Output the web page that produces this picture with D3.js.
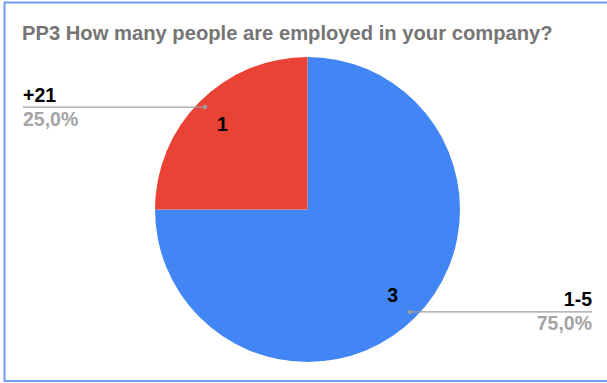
<!DOCTYPE html>
<html>
<head>
<meta charset="utf-8">
<script src="https://cdn.jsdelivr.net/npm/d3@7"></script>
<style>
  body { margin: 0; background: #fff; }
  svg { display: block; }
</style>
</head>
<body>
<div class="root"></div>
<script>
var title = 'PP3 How many people are employed in your company?';
var categories = ['1-5', '+21'];
var values = [3, 1];
var colors = ['#4285f4', '#ea4335'];

function runChart() {
  var w = 607, h = 383;
  var cx = 307.5, cy = 209.5, r = 152.5;
  var font = "'Liberation Sans', Arial, Helvetica, sans-serif";

  var svg = d3.select('.root').append('svg')
    .attr('width', w)
    .attr('height', h);

  // frame
  svg.append('rect')
    .attr('x', 4.5).attr('y', 2.5)
    .attr('width', w + 10).attr('height', 378.5)
    .attr('fill', 'none')
    .attr('stroke', '#6d9eeb')
    .attr('stroke-width', 2);

  svg.append('text')
    .attr('x', 22).attr('y', 40)
    .attr('font-family', font)
    .attr('font-size', 20.2)
    .attr('font-weight', 'bold')
    .attr('fill', '#757575')
    .text(title);

  var total = d3.sum(values);
  var data = categories.map(function(c, i) {
    return {cat: c, value: values[i], color: colors[i]};
  });

  var pie = d3.pie().sort(null).value(function(d) { return d.value; });
  var arcs = pie(data);

  var arc = d3.arc().innerRadius(0).outerRadius(r);
  var labelArc = d3.arc().innerRadius(r * 0.79).outerRadius(r * 0.79);
  var dotArc = d3.arc().innerRadius(r * 0.95).outerRadius(r * 0.95);

  var g = svg.append('g').attr('transform', 'translate(' + cx + ',' + cy + ')');

  g.selectAll('path.slice')
    .data(arcs)
    .enter().append('path')
      .attr('class', 'slice')
      .attr('d', arc)
      .attr('fill', function(d) { return d.data.color; });

  g.selectAll('text.val')
    .data(arcs)
    .enter().append('text')
      .attr('class', 'val')
      .attr('transform', function(d) { var p = labelArc.centroid(d); return 'translate(' + p[0] + ',' + p[1] + ')'; })
      .attr('dy', '0.36em')
      .attr('text-anchor', 'middle')
      .attr('font-family', font)
      .attr('font-size', 19.5)
      .attr('font-weight', 'bold')
      .attr('fill', '#000')
      .text(function(d) { return d.data.value; });

  var pct = d3.format('.1f');
  var leftX = 23 - cx, rightX = 592 - cx;

  arcs.forEach(function(d) {
    var p = dotArc.centroid(d);
    var mid = (d.startAngle + d.endAngle) / 2;
    var right = mid < Math.PI;
    var ex = right ? rightX : leftX;
    g.append('line')
      .attr('x1', p[0]).attr('y1', p[1])
      .attr('x2', ex).attr('y2', p[1])
      .attr('stroke', '#9e9e9e')
      .attr('stroke-width', 1.3);
    g.append('circle')
      .attr('cx', p[0]).attr('cy', p[1])
      .attr('r', 2.2)
      .attr('fill', '#9e9e9e');
    var anchor = right ? 'end' : 'start';
    g.append('text')
      .attr('x', ex).attr('y', p[1] - 5.5)
      .attr('text-anchor', anchor)
      .attr('font-family', font)
      .attr('font-size', 19.5)
      .attr('font-weight', 'bold')
      .attr('fill', '#000')
      .text(d.data.cat);
    g.append('text')
      .attr('x', ex).attr('y', p[1] + 18.5)
      .attr('text-anchor', anchor)
      .attr('font-family', font)
      .attr('font-size', 19.5)
      .attr('font-weight', 'bold')
      .attr('fill', '#a4a4a4')
      .text(pct(d.data.value / total * 100).replace('.', ',') + '%');
  });
}

window.onload = function() {
  runChart();
};
</script>
</body>
</html>
